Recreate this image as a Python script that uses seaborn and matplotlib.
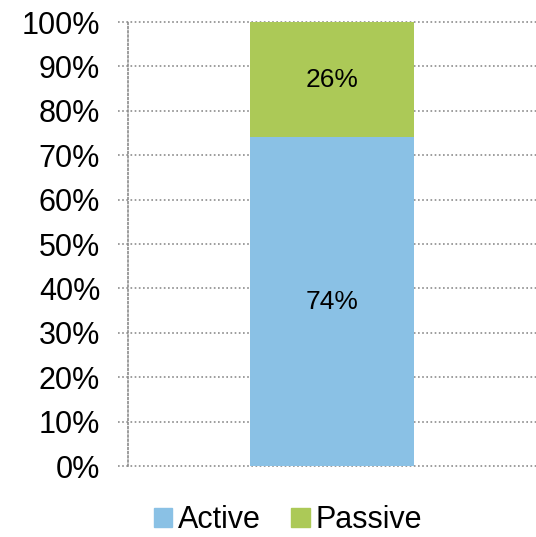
import numpy as np
import pandas as pd
import matplotlib
matplotlib.use('Agg')
import matplotlib.pyplot as plt
import matplotlib.patches as mpatches
import seaborn as sns

# Data
groups = ['All']
active = [74]
passive = [26]
series_names = ['Active', 'Passive']
colors = ['#8AC1E5', '#ACC957']
yticks = np.arange(0, 101, 10)

sns.set_theme(style='white')
plt.rcParams['font.family'] = ['Liberation Sans', 'DejaVu Sans']
plt.rcParams['text.color'] = 'black'
plt.rcParams['ytick.color'] = 'black'
plt.rcParams['ytick.labelcolor'] = 'black'

df = pd.DataFrame({'group': groups, 'active': active,
                   'total': np.array(active) + np.array(passive)})

fig = plt.figure(figsize=(5.36, 5.37), dpi=100)
ax = fig.add_axes([128 / 536, 71 / 537, 408 / 536, 444 / 537])

# stacked bar: total first (passive colour), then active on top of it
sns.barplot(data=df, x='group', y='total', color=colors[1], width=0.4,
            saturation=1, linewidth=0, ax=ax, zorder=3)
sns.barplot(data=df, x='group', y='active', color=colors[0], width=0.4,
            saturation=1, linewidth=0, ax=ax, zorder=3)

for i in range(len(groups)):
    ax.text(i, active[i] / 2, f'{active[i]}%', ha='center', va='center',
            fontsize=19, color='black', zorder=4)
    ax.text(i, active[i] + passive[i] / 2, f'{passive[i]}%', ha='center',
            va='center', fontsize=19, color='black', zorder=4)

ax.set_xlim(-0.5, 0.5)
ax.set_ylim(0, 100)
ax.set_yticks(yticks)
ax.set_yticklabels([f'{t}%' for t in yticks], fontsize=22, color='black')
ax.set_xticks([])
ax.set_xlabel('')
ax.set_ylabel('')
ax.tick_params(axis='y', length=0, pad=20)

# dotted gridlines that run a little past the left axis (as tick marks)
dots = (0, (1, 1.5))
ax.hlines(yticks, -0.025, 1, transform=ax.get_yaxis_transform(),
          colors='#8c8c8c', linestyles=dots, linewidth=1.2, clip_on=False,
          zorder=1)
for s in ['top', 'right', 'bottom']:
    ax.spines[s].set_visible(False)
ax.spines['left'].set_linestyle(dots)
ax.spines['left'].set_color('#8c8c8c')
ax.spines['left'].set_linewidth(1.2)
ax.patch.set_alpha(0)

handles = [mpatches.Patch(color=c, label=n) for c, n in zip(colors, series_names)]
fig.legend(handles=handles, loc='center', bbox_to_anchor=(288 / 536, 1 - 520 / 537),
           ncol=2, frameon=False, fontsize=22, handlelength=0.6, handleheight=0.6,
           handletextpad=0.2, columnspacing=1.0, labelcolor='black',
           borderpad=0.2)

fig.savefig('out.png', dpi=100)
